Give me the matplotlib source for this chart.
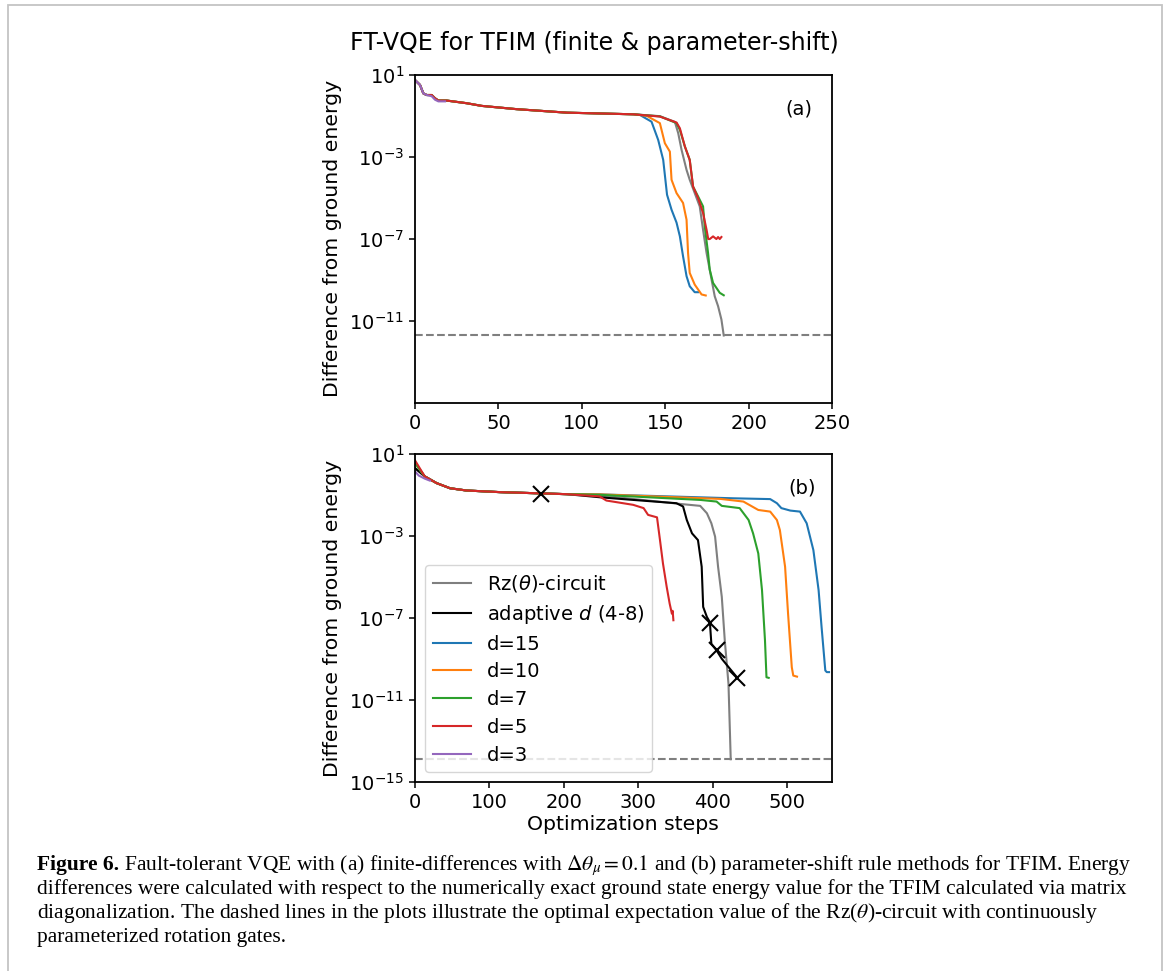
import numpy as np
import matplotlib
matplotlib.use("Agg")
import matplotlib.pyplot as plt
from matplotlib.patches import Rectangle

# ---------------- data (log10 of energy difference) ----------------
labels = [r"Rz($\theta$)-circuit", r"adaptive $d$ (4-8)", "d=15", "d=10", "d=7", "d=5", "d=3"]
colors = ["#7f7f7f", "black", "#1f77b4", "#ff7f0e", "#2ca02c", "#d62728", "#9467bd"]

# panel (a): finite differences
a_common_x = [0, 3, 5, 7, 10, 12, 14, 19, 31, 40, 61, 91, 131]
a_common_y = [0.74, 0.50, 0.09, 0.01, 0.01, -0.15, -0.26, -0.26, -0.39, -0.52, -0.68, -0.85, -0.93]

a_gray_x = [146.8, 155.8, 157.8, 159.8, 162.8, 164.7, 167.7, 170.7, 172.7, 174.8, 177.8, 179.7, 181.7, 183.7, 185.1]
a_gray_y = [-1.02, -1.30, -1.85, -2.66, -3.64, -4.12, -4.77, -5.42, -6.56, -7.69, -8.99, -9.80, -10.28, -10.93, -11.71]
a_blue_x = [134.8, 141.8, 145.8, 148.8, 151.1, 153.8, 156.8, 158.8, 160.7, 162.8, 164.7, 167.7, 169.7]
a_blue_y = [-0.96, -1.29, -2.18, -3.15, -4.85, -5.58, -6.21, -6.88, -7.85, -8.82, -9.31, -9.60, -9.60]
a_orange_x = [138.8, 146.8, 149.8, 152.8, 153.8, 156.8, 160.7, 162.8, 163.7, 164.7, 167.7, 171.8, 174.3]
a_orange_y = [-1.00, -1.36, -2.34, -2.75, -4.12, -4.77, -5.25, -6.07, -7.69, -8.66, -9.23, -9.71, -9.76]
a_green_x = [146.8, 156.8, 158.8, 161.8, 164.7, 166.7, 169.7, 172.7, 173.7, 175.7, 176.7, 178.7, 180.7, 182.7, 185.1]
a_green_y = [-1.03, -1.36, -1.69, -2.50, -3.15, -4.45, -4.93, -5.42, -6.39, -7.69, -8.50, -9.15, -9.39, -9.63, -9.75]
a_red_x = [146.8, 156.8, 158.8, 161.8, 164.7, 166.7, 169.7, 172.7, 174.8, 175.8, 176.7, 178.7, 180.7, 181.7, 182.7, 183.7]
a_red_y = [-1.04, -1.33, -1.61, -2.50, -3.15, -4.45, -5.01, -5.74, -6.56, -7.01, -7.01, -6.88, -7.01, -6.91, -7.01, -6.91]
a_purple_x = [0, 3, 5, 7, 10, 12, 14, 18]
a_purple_y = [0.74, 0.50, 0.09, 0.01, -0.05, -0.22, -0.30, -0.30]
a_dashed = -11.71

# panel (b): parameter-shift
b_common_x = [13, 29, 47, 69, 114, 168, 204]
b_common_y = [-0.09, -0.42, -0.67, -0.78, -0.86, -0.92, -0.96]

b_gray_x = [248, 360, 383, 392, 398, 403, 407, 412, 416, 421, 424]
b_gray_y = [-1.02, -1.45, -1.53, -1.89, -2.38, -3.03, -4.50, -5.97, -8.09, -10.22, -13.89]
b_black_x = [248, 293, 351, 360, 365, 372, 380, 385, 387, 392, 396, 398, 405, 412, 423, 433]
b_black_y = [-1.11, -1.24, -1.40, -1.56, -2.22, -2.87, -3.20, -4.50, -6.46, -6.95, -7.20, -8.26, -8.58, -8.99, -9.48, -9.92]
b_blue_x = [248, 427, 477, 486, 492, 504, 517, 526, 535, 542, 546, 551, 553, 556]
b_blue_y = [-0.97, -1.16, -1.20, -1.40, -1.64, -1.76, -1.81, -2.38, -3.69, -5.64, -7.44, -9.56, -9.64, -9.64]
b_orange_x = [248, 410, 441, 461, 477, 486, 490, 497, 501, 506, 508, 513]
b_orange_y = [-0.97, -1.19, -1.32, -1.73, -1.81, -2.22, -2.71, -4.50, -6.79, -9.40, -9.81, -9.86]
b_green_x = [248, 383, 405, 412, 436, 448, 454, 461, 466, 470, 472, 475]
b_green_y = [-0.99, -1.24, -1.32, -1.53, -1.64, -2.22, -2.87, -3.85, -5.64, -8.09, -9.89, -9.92]
b_red_x = [248, 257, 293, 307, 313, 325, 329, 333, 338, 342, 345, 346, 347]
b_red_y = [-1.07, -1.27, -1.48, -1.64, -1.97, -2.09, -3.20, -4.34, -5.48, -6.30, -6.79, -6.65, -7.11]
b_purple_x = [0, 5, 13, 20]
b_purple_y = [0.15, -0.05, -0.20, -0.30]
b_start = {"gray": 0.31, "black": 0.31, "blue": 0.56, "orange": 0.56, "green": 0.56, "red": 0.69}
b_marker_x = [169, 396, 406, 433]
b_marker_y = [-0.94, -7.24, -8.58, -9.92]
b_dashed = -13.89

# ---------------- figure ----------------
W, H = 1168, 971
plt.rcParams["font.family"] = "DejaVu Sans"
plt.rcParams["mathtext.fontset"] = "dejavusans"
fig = plt.figure(figsize=(W / 100, H / 100), dpi=100)
FS = 14
LFS = 14.7

fig.patches.append(Rectangle((8 / W, -0.02), (1162 - 8) / W, 1.02 - 5 / H,
                             transform=fig.transFigure, fill=False,
                             edgecolor="#c4c4c4", linewidth=1.3))

def fig_box(l, t, r, b):
    return [l / W, 1 - b / H, (r - l) / W, (b - t) / H]

ax_a = fig.add_axes(fig_box(415, 74.7, 832, 403))
ax_b = fig.add_axes(fig_box(415, 454, 832, 782))

def style(ax, yt):
    ax.set_yscale("log")
    ax.set_ylim(1e-15, 1e1)
    ax.set_yticks(yt)
    ax.yaxis.set_minor_locator(matplotlib.ticker.NullLocator())
    ax.tick_params(labelsize=FS, length=4.5, width=1.1)
    for s in ax.spines.values():
        s.set_linewidth(1.3)

def y(v):
    return 10 ** np.asarray(v, dtype=float)

# panel (a)
series_a = [
    (a_common_x + a_gray_x, a_common_y + a_gray_y, colors[0]),
    (a_common_x + a_blue_x, a_common_y + a_blue_y, colors[2]),
    (a_common_x + a_orange_x, a_common_y + a_orange_y, colors[3]),
    (a_common_x + a_green_x, a_common_y + a_green_y, colors[4]),
    (a_common_x + a_red_x, a_common_y + a_red_y, colors[5]),
    (a_purple_x, a_purple_y, colors[6]),
]
for xs, ys, c in series_a:
    ax_a.plot(xs, y(ys), color=c, lw=1.5)
ax_a.axhline(10 ** a_dashed, color="#7f7f7f", ls="--", lw=1.5)
style(ax_a, [1e1, 1e-3, 1e-7, 1e-11])
ax_a.set_xlim(0, 250)
ax_a.set_xticks([0, 50, 100, 150, 200, 250])
ax_a.text(0.921, 0.895, "(a)", transform=ax_a.transAxes, fontsize=FS, ha="center", va="center")

# panel (b)
series_b = [
    ([0] + b_common_x + b_gray_x, [b_start["gray"]] + b_common_y + b_gray_y, colors[0], labels[0]),
    ([0] + b_common_x + b_black_x, [b_start["black"]] + b_common_y + b_black_y, colors[1], labels[1]),
    ([0] + b_common_x + b_blue_x, [b_start["blue"]] + b_common_y + b_blue_y, colors[2], labels[2]),
    ([0] + b_common_x + b_orange_x, [b_start["orange"]] + b_common_y + b_orange_y, colors[3], labels[3]),
    ([0] + b_common_x + b_green_x, [b_start["green"]] + b_common_y + b_green_y, colors[4], labels[4]),
    ([0] + b_common_x + b_red_x, [b_start["red"]] + b_common_y + b_red_y, colors[5], labels[5]),
    (b_purple_x, b_purple_y, colors[6], labels[6]),
]
for xs, ys, c, lab in series_b:
    ax_b.plot(xs, y(ys), color=c, lw=1.5, label=lab)
ax_b.plot(b_marker_x, y(b_marker_y), ls="none", marker="x", color="black", ms=11, mew=1.5)
ax_b.axhline(10 ** b_dashed, color="#7f7f7f", ls="--", lw=1.5)
style(ax_b, [1e1, 1e-3, 1e-7, 1e-11, 1e-15])
ax_b.set_xlim(0, 560)
ax_b.set_xticks([0, 100, 200, 300, 400, 500])
ax_b.text(0.928, 0.896, "(b)", transform=ax_b.transAxes, fontsize=FS, ha="center", va="center")
ax_b.legend(loc="lower left", fontsize=FS, labelspacing=0.45)

# labels
fig.text(594 / W, 1 - 43 / H, "FT-VQE for TFIM (finite & parameter-shift)", fontsize=17,
         ha="center", va="center")
fig.text(333 / W, 1 - 238 / H, "Difference from ground energy", fontsize=LFS, rotation=90,
         ha="center", va="center")
fig.text(333 / W, 1 - 618 / H, "Difference from ground energy", fontsize=LFS, rotation=90,
         ha="center", va="center")
fig.text(623 / W, 1 - 824 / H, "Optimization steps", fontsize=LFS, ha="center", va="center")

# caption
CF = "Liberation Serif"
caption_first = (r" Fault-tolerant VQE with (a) finite-differences with $\Delta\theta_\mu = 0.1$ and "
                 r"(b) parameter-shift rule methods for TFIM. Energy")
caption_rest = [
    "differences were calculated with respect to the numerically exact ground state energy value "
    "for the TFIM calculated via matrix",
    r"diagonalization. The dashed lines in the plots illustrate the optimal expectation value of the "
    r"Rz($\theta$)-circuit with continuously",
    "parameterized rotation gates.",
]
baselines = [870, 894, 918, 942]
x0, x_end = 37, 1130
math_props = dict(family=CF, math_fontfamily="stix")

fig.canvas.draw()
r = fig.canvas.get_renderer()
cs = 13.0
t_bold = fig.text(x0 / W, 1 - baselines[0] / H, "Figure 6.", fontsize=cs,
                  fontweight="bold", va="baseline", ha="left", **math_props)
t_first = fig.text(0, 1 - baselines[0] / H, caption_first, fontsize=cs,
                   va="baseline", ha="left", **math_props)
rest = [fig.text(x0 / W, 1 - bl / H, line, fontsize=cs, va="baseline", ha="left", **math_props)
        for line, bl in zip(caption_rest, baselines[1:])]

def place(size):
    for t in [t_bold, t_first] + rest:
        t.set_fontsize(size)
    bb = t_bold.get_window_extent(renderer=r)
    t_first.set_x(bb.x1 / W)
    return t_first.get_window_extent(renderer=r).x1

for _ in range(3):
    right = place(cs)
    cs = cs * (x_end - x0) / (right - x0)
place(cs)

fig.savefig("out.png", dpi=100)
